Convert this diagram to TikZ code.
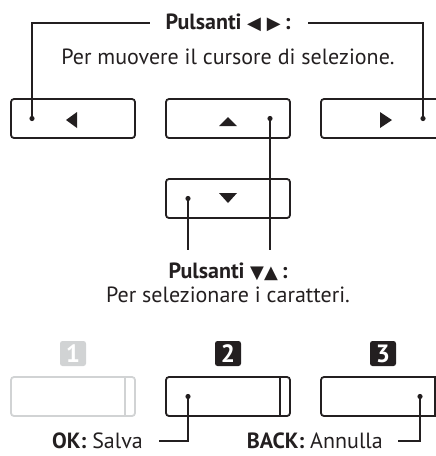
\documentclass[tikz,border=0pt]{standalone}
\usepackage{fontspec}
\setmainfont{PT Sans}
\newfontfamily\symfont{DejaVu Sans}
\definecolor{ink}{HTML}{231F20}
\definecolor{pale}{HTML}{D1D3D4}
\begin{document}
\begin{tikzpicture}[x=1pt,y=-1pt,
  btn/.style={draw=ink, line width=1.8pt, rounded corners=3pt, minimum width=124pt, minimum height=39pt, inner sep=0pt},
  numbox/.style={fill=ink, rounded corners=2.5pt, minimum width=26pt, minimum height=25pt, inner sep=0pt, text=white, font=\fontsize{25}{26}\selectfont\bfseries},
  lbl/.style={text=ink, font=\fontsize{22}{26}\selectfont, inner sep=0pt},
  ttl/.style={text=ink, font=\fontsize{22}{26}\selectfont\bfseries, inner sep=0pt},
  conn/.style={draw=ink, line width=1.1pt},
  dot/.style={fill=ink},
  tri/.style={fill=ink}]
\useasboundingbox (0,0) rectangle (436,456);
\clip (0,0) rectangle (436,456);
% top buttons
\node[btn] (bl) at (73,118.5) {};
\node[btn] (bu) at (228,118.5) {};
\node[btn] (br) at (383,118.5) {};
\node[btn] (bd) at (228,198.5) {};
% arrows in buttons
\fill[tri] (66,120) -- (77,112) -- (77,128) -- cycle;
\fill[tri] (219,126) -- (237,126) -- (228,117) -- cycle;
\fill[tri] (392,120) -- (380,112) -- (380,128) -- cycle;
\fill[tri] (219,193) -- (237,193) -- (228,203) -- cycle;
% dots
\coordinate (dl) at (32,118.5);
\coordinate (du) at (270,118.5);
\coordinate (dr) at (423,118.5);
\coordinate (dd) at (188,198.5);
\foreach \d in {dl,du,dr,dd} \fill[dot] (\d) circle (2.6pt);
% title 1
\node[ttl] (t1) at (228,23) {Pulsanti {\symfont\fontsize{18}{18}\selectfont ◀\,\,▶}\,:};
\node[lbl] (s1) at (228,57) {Per muovere il cursore di selezione.};
\draw[conn] (dl) |- ([xshift=-15pt]t1.west);
\draw[conn] (dr) |- ([xshift=17pt]t1.east);
% title 2
\node[ttl] (t2) at (228,272) {Pulsanti {\symfont\fontsize{18}{18}\selectfont ▼▲}\,:};
\node[lbl] (s2) at (228,295) {Per selezionare i caratteri.};
\coordinate (e1) at (188,250);
\coordinate (e2) at (270,250);
\draw[conn] (dd) -- (e1);
\draw[conn] (du) -- (e2);
% bottom number boxes
\node[numbox, fill=pale] (n1) at (73,353.5) {1};
\node[numbox] (n2) at (228,353.5) {2};
\node[numbox] (n3) at (383,353.5) {3};
% bottom buttons
\node[btn, draw=pale] (f1) at (73,396.5) {};
\node[btn] (f2) at (228,396.5) {};
\node[btn] (f3) at (383,396.5) {};
\draw[pale, line width=1.8pt] ([xshift=-11pt]f1.north east) -- ([xshift=-11pt]f1.south east);
\draw[ink, line width=1.8pt] ([xshift=-11pt]f2.north east) -- ([xshift=-11pt]f2.south east);
\draw[ink, line width=1.8pt] ([xshift=-11pt]f3.north east) -- ([xshift=-11pt]f3.south east);
\coordinate (d2) at (188,396.5);
\coordinate (d3) at (420,396.5);
\fill[dot] (d2) circle (2.6pt);
\fill[dot] (d3) circle (2.6pt);
\node[lbl, anchor=east] (ok) at (143,441) {\textbf{OK:} Salva};
\node[lbl, anchor=east] (bk) at (383,441) {\textbf{BACK:} Annulla};
\draw[conn] (d2) |- ([xshift=16pt]ok.east);
\draw[conn] (d3) |- ([xshift=15pt]bk.east);
\end{tikzpicture}
\end{document}
